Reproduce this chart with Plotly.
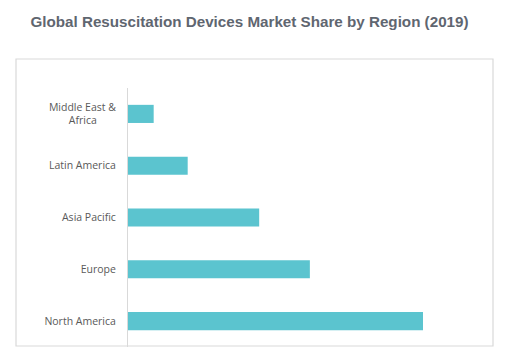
import plotly.graph_objects as go

regions = ["North America", "Europe", "Asia Pacific", "Latin America", "Middle East &<br>Africa"]
tick_labels = ["North America", "Europe", "Asia Pacific", "Latin America",
               "Middle East &<br>Africa" + "&nbsp;" * 7]
shares = [42.5, 26.2, 18.9, 8.6, 3.7]

# page body has an 8px default margin; compensate
OFF = 8
W, H = 514 - OFF, 361 - OFF
L, R, T, B = 128 - OFF, 493 - OFF, 88 - OFF, 347 - OFF
pw, ph = R - L, B - T
px_per_unit = 295 / 42.5
xmax = pw / px_per_unit

fig = go.Figure(go.Bar(
    y=regions, x=shares, orientation="h",
    marker=dict(color="#5bc4cf", line=dict(width=0)),
    hoverinfo="x+y",
))

fig.update_layout(
    width=W, height=H,
    margin=dict(l=L, r=W - R, t=T, b=H - B, pad=0),
    paper_bgcolor="white", plot_bgcolor="white",
    bargap=0.65,
    showlegend=False,
    title=dict(
        text="<b>Global Resuscitation Devices Market Share by Region (2019)</b>",
        x=(249.5 - OFF) / W, xanchor="center", y=1 - (22 - OFF) / H, yanchor="middle",
        font=dict(family="Liberation Sans, Arial", size=15.2, color="#5f6670"),
    ),
    xaxis=dict(range=[0, xmax], showgrid=False, zeroline=False, showticklabels=False,
               showline=False, ticks=""),
    yaxis=dict(categoryorder="array", categoryarray=regions, showgrid=False,
               tickmode="array", tickvals=regions, ticktext=tick_labels,
               zeroline=False, showline=True, linecolor="#d9d9d9", linewidth=1,
               ticks="", ticklabelstandoff=9,
               tickfont=dict(family="Open Sans, DejaVu Sans", size=10.5, color="#595959")),
    shapes=[dict(type="rect", xref="paper", yref="paper",
                 x0=(16 - OFF - L) / pw, x1=(R - L) / pw,
                 y0=(B - (346 - OFF)) / ph, y1=(B - (59 - OFF)) / ph,
                 line=dict(color="#d9d9d9", width=1.2), fillcolor="rgba(0,0,0,0)",
                 layer="below")],
)

fig.write_html("out.html")
